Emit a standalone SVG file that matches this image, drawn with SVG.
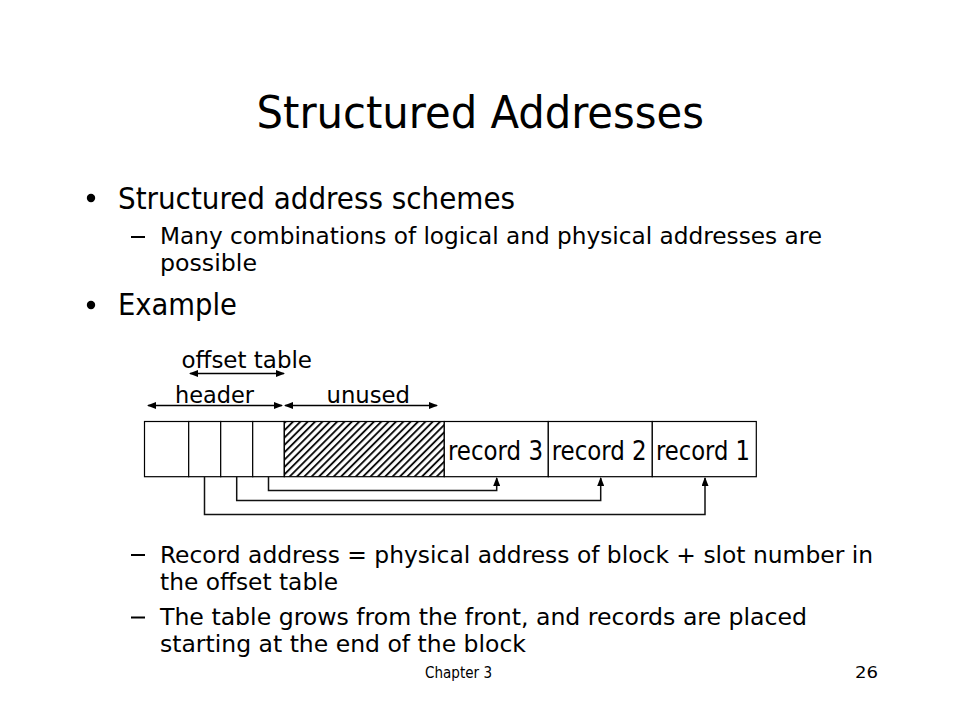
<svg xmlns="http://www.w3.org/2000/svg" width="960" height="720" viewBox="0 0 960 720">
<style>
text{font-family:"DejaVu Sans Condensed","DejaVu Sans","Liberation Sans",sans-serif;fill:#000}
.title{font-size:45px}
.l1{font-size:30px}
.l2{font-size:23px}
.lab{font-size:23px}
.rec{font-size:26px}
.foot{font-size:16px}
.cell{fill:#fff;stroke:#000;stroke-width:1.2}
.arr{fill:none;stroke:#000;stroke-width:1.5}
.con{fill:none;stroke:#111;stroke-width:1.5}
</style>
<defs>
<marker id="ah" markerUnits="userSpaceOnUse" markerWidth="9" markerHeight="7" refX="8" refY="3.5" orient="auto-start-reverse">
<path d="M0,0 L9,3.5 L0,7 z" fill="#000"/>
</marker>
<pattern id="hatch" patternUnits="userSpaceOnUse" width="5.2" height="10" patternTransform="rotate(45)">
<line x1="1" y1="-1" x2="1" y2="11" stroke="#000" stroke-width="1.8"/>
</pattern>
</defs>
<rect width="960" height="720" fill="#fff"/>

<g id="title">
<text class="title" x="256.5" y="128" textLength="447.5" lengthAdjust="spacingAndGlyphs">Structured Addresses</text>
</g>

<g id="bullets">
<circle cx="91" cy="198" r="4.2" fill="#000"/>
<text class="l1" x="118" y="208.5" textLength="397" lengthAdjust="spacingAndGlyphs">Structured address schemes</text>
<rect x="131" y="236" width="14" height="2" fill="#000"/>
<text class="l2" x="160" y="243.5" textLength="662" lengthAdjust="spacingAndGlyphs">Many combinations of logical and physical addresses are</text>
<text class="l2" x="160" y="270.5" textLength="97" lengthAdjust="spacingAndGlyphs">possible</text>
<circle cx="91" cy="305" r="4.2" fill="#000"/>
<text class="l1" x="118" y="315" textLength="119" lengthAdjust="spacingAndGlyphs">Example</text>

<rect x="131" y="554" width="14" height="2" fill="#000"/>
<text class="l2" x="160" y="562.5" textLength="713" lengthAdjust="spacingAndGlyphs">Record address = physical address of block + slot number in</text>
<text class="l2" x="160" y="590" textLength="178" lengthAdjust="spacingAndGlyphs">the offset table</text>
<rect x="131" y="616.5" width="14" height="2" fill="#000"/>
<text class="l2" x="160" y="625" textLength="647" lengthAdjust="spacingAndGlyphs">The table grows from the front, and records are placed</text>
<text class="l2" x="160" y="652" textLength="366" lengthAdjust="spacingAndGlyphs">starting at the end of the block</text>
</g>

<g id="labels">
<text class="lab" x="181.5" y="368" textLength="130.5" lengthAdjust="spacingAndGlyphs">offset table</text>
<text class="lab" x="175" y="403" textLength="79" lengthAdjust="spacingAndGlyphs">header</text>
<text class="lab" x="326.5" y="403" textLength="83.5" lengthAdjust="spacingAndGlyphs">unused</text>
</g>

<g id="dimension-arrows">
<line class="arr" x1="190" y1="373.5" x2="284" y2="373.5" marker-start="url(#ah)" marker-end="url(#ah)"/>
<line class="arr" x1="148" y1="405.5" x2="282" y2="405.5" marker-start="url(#ah)" marker-end="url(#ah)"/>
<line class="arr" x1="285" y1="405.5" x2="437" y2="405.5" marker-start="url(#ah)" marker-end="url(#ah)"/>
</g>

<g id="block">
<g id="slot1"><rect class="cell" x="144.5" y="421.5" width="44.2" height="55.2"/></g>
<g id="slot2"><rect class="cell" x="188.7" y="421.5" width="32" height="55.2"/></g>
<g id="slot3"><rect class="cell" x="220.7" y="421.5" width="32" height="55.2"/></g>
<g id="slot4"><rect class="cell" x="252.7" y="421.5" width="31.6" height="55.2"/></g>
<g id="unused"><rect x="284.3" y="421.5" width="160" height="55.2" fill="url(#hatch)" stroke="#000" stroke-width="1.2"/></g>
<g id="record3"><rect class="cell" x="444.3" y="421.5" width="104" height="55.2"/>
<text class="rec" x="448" y="460" textLength="95" lengthAdjust="spacingAndGlyphs">record 3</text></g>
<g id="record2"><rect class="cell" x="548.3" y="421.5" width="104" height="55.2"/>
<text class="rec" x="551.7" y="460" textLength="95" lengthAdjust="spacingAndGlyphs">record 2</text></g>
<g id="record1"><rect class="cell" x="652.3" y="421.5" width="104" height="55.2"/>
<text class="rec" x="656" y="460" textLength="94" lengthAdjust="spacingAndGlyphs">record 1</text></g>
</g>

<g id="connectors">
<polyline class="con" points="268.5,477 268.5,490.5 496.7,490.5 496.7,478" marker-end="url(#ah)"/>
<polyline class="con" points="236.7,477 236.7,500.5 600.7,500.5 600.7,478" marker-end="url(#ah)"/>
<polyline class="con" points="204.5,477 204.5,514.5 705,514.5 705,478" marker-end="url(#ah)"/>
</g>

<g id="footer">
<text class="foot" x="425" y="678" textLength="67" lengthAdjust="spacingAndGlyphs">Chapter 3</text>
<text class="foot" x="855" y="678" textLength="23" lengthAdjust="spacingAndGlyphs">26</text>
</g>
</svg>
